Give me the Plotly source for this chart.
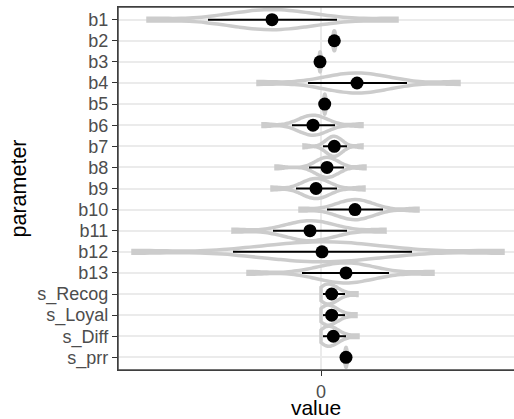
import plotly.graph_objects as go

# ---- data ----
parameters = ["b1", "b2", "b3", "b4", "b5", "b6", "b7", "b8", "b9", "b10",
              "b11", "b12", "b13", "s_Recog", "s_Loyal", "s_Diff", "s_prr"]

point_est = [-0.49, 0.133, -0.01, 0.36, 0.037, -0.08, 0.133, 0.06, -0.05, 0.34,
             -0.11, 0.01, 0.25, 0.107, 0.107, 0.123, 0.25]
interval_lo = [-1.13, 0.12, -0.02, -0.13, 0.025, -0.29, 0.02, -0.12, -0.25, 0.06,
               -0.48, -0.88, -0.19, 0.02, 0.02, 0.02, 0.23]
interval_hi = [0.16, 0.145, 0.00, 0.86, 0.05, 0.14, 0.26, 0.23, 0.16, 0.62,
               0.26, 0.91, 0.68, 0.24, 0.24, 0.25, 0.27]

# posterior draws (summarised) per parameter
draws_b1 = [-1.73, -1.06, -0.87, -0.76, -0.67, -0.60, -0.52, -0.46, -0.39, -0.31, -0.22, -0.11, 0.08, 0.76]
draws_b2 = [0.115, 0.121, 0.124, 0.126, 0.128, 0.130, 0.132, 0.134, 0.136, 0.138, 0.140, 0.142, 0.145, 0.15]
draws_b3 = [-0.025, -0.019, -0.016, -0.014, -0.012, -0.011, -0.010, -0.009, -0.008, -0.006, -0.004, -0.002, 0.001, 0.005]
draws_b4 = [-0.63, -0.08, 0.07, 0.16, 0.22, 0.28, 0.335, 0.385, 0.44, 0.50, 0.565, 0.65, 0.80, 1.38]
draws_b5 = [0.02, 0.027, 0.030, 0.032, 0.034, 0.036, 0.037, 0.038, 0.040, 0.042, 0.044, 0.046, 0.049, 0.055]
draws_b6 = [-0.58, -0.27, -0.21, -0.17, -0.14, -0.115, -0.09, -0.07, -0.045, -0.02, 0.01, 0.05, 0.11, 0.41]
draws_b7 = [-0.17, 0.025, 0.06, 0.08, 0.095, 0.11, 0.125, 0.135, 0.15, 0.165, 0.18, 0.20, 0.235, 0.41]
draws_b8 = [-0.45, -0.09, -0.04, -0.01, 0.01, 0.03, 0.05, 0.07, 0.09, 0.11, 0.13, 0.16, 0.21, 0.44]
draws_b9 = [-0.49, -0.23, -0.17, -0.135, -0.11, -0.085, -0.06, -0.04, -0.015, 0.01, 0.035, 0.07, 0.13, 0.43]
draws_b10 = [-0.21, 0.09, 0.175, 0.225, 0.26, 0.295, 0.325, 0.355, 0.385, 0.42, 0.455, 0.505, 0.59, 0.97]
draws_b11 = [-0.88, -0.44, -0.33, -0.26, -0.21, -0.17, -0.13, -0.09, -0.05, -0.005, 0.045, 0.11, 0.22, 0.64]
draws_b12 = [-1.88, -0.78, -0.52, -0.36, -0.24, -0.14, -0.035, 0.055, 0.155, 0.26, 0.38, 0.535, 0.80, 1.82]
draws_b13 = [-0.73, -0.13, 0.0, 0.07, 0.13, 0.18, 0.23, 0.27, 0.32, 0.37, 0.43, 0.505, 0.635, 1.12]
draws_s_Recog = [0.00, 0.01, 0.025, 0.04, 0.055, 0.07, 0.085, 0.10, 0.115, 0.13, 0.15, 0.18, 0.23, 0.36]
draws_s_Loyal = [0.00, 0.01, 0.025, 0.04, 0.055, 0.07, 0.085, 0.10, 0.115, 0.13, 0.15, 0.18, 0.23, 0.35]
draws_s_Diff = [0.00, 0.012, 0.03, 0.045, 0.06, 0.075, 0.09, 0.105, 0.12, 0.135, 0.155, 0.185, 0.235, 0.37]
draws_s_prr = [0.23, 0.238, 0.241, 0.244, 0.246, 0.248, 0.249, 0.251, 0.252, 0.254, 0.256, 0.258, 0.261, 0.266]

all_draws = [draws_b1, draws_b2, draws_b3, draws_b4, draws_b5, draws_b6, draws_b7,
             draws_b8, draws_b9, draws_b10, draws_b11, draws_b12, draws_b13,
             draws_s_Recog, draws_s_Loyal, draws_s_Diff, draws_s_prr]

FONT = "Liberation Sans, Arial, sans-serif"
fig = go.Figure()

for name, d in zip(parameters, all_draws):
    fig.add_trace(go.Violin(
        x=d, y=[name] * len(d), name=name, orientation="h",
        spanmode="hard", side="both", width=0.95, scalemode="width",
        points=False, line=dict(color="#cccccc", width=3.5),
        fillcolor="rgba(0,0,0,0)", showlegend=False, hoverinfo="skip",
        box=dict(visible=False), meanline=dict(visible=False),
    ))

fig.add_trace(go.Scatter(
    x=point_est, y=parameters, mode="markers",
    marker=dict(color="black", size=13),
    error_x=dict(type="data", symmetric=False,
                 array=[h - p for h, p in zip(interval_hi, point_est)],
                 arrayminus=[p - l for l, p in zip(interval_lo, point_est)],
                 color="black", thickness=2, width=0),
    showlegend=False,
))

# panel border (ggplot theme_bw style)
fig.add_shape(type="rect", xref="paper", yref="paper", x0=0, x1=1.01, y0=0, y1=1,
              line=dict(color="#444444", width=1.5), fillcolor="rgba(0,0,0,0)",
              layer="above")

fig.update_layout(
    width=514, height=419,
    margin=dict(l=118, r=0, t=7, b=49),
    paper_bgcolor="white", plot_bgcolor="white",
    violinmode="overlay",
    font=dict(family=FONT),
)
fig.update_xaxes(
    range=[-2.03, 1.93], tickmode="array", tickvals=[0], ticktext=["0"],
    showgrid=True, gridcolor="#ebebeb", gridwidth=1.5, zeroline=False,
    showline=True, linecolor="#333333", linewidth=1.2, mirror=True,
    ticks="outside", ticklen=5, tickcolor="#333333", tickwidth=1.2,
    tickfont=dict(size=18, color="#4d4d4d", family=FONT),
    title=dict(text="value", font=dict(size=21, color="black", family=FONT), standoff=8),
    automargin=False,
)
fig.update_yaxes(
    categoryorder="array", categoryarray=parameters, range=[16.6, -0.6],
    tickmode="array", tickvals=parameters, ticktext=parameters,
    showgrid=True, gridcolor="#ebebeb", gridwidth=1.5, zeroline=False,
    showline=True, linecolor="#333333", linewidth=1.2, mirror=False,
    ticks="outside", ticklen=5, tickcolor="#333333", tickwidth=1.2,
    tickfont=dict(size=18, color="#4d4d4d", family=FONT),
    title=dict(text="parameter", font=dict(size=21.5, color="black", family=FONT), standoff=4),
    automargin=False,
)

fig.write_html("out.html", config={"displayModeBar": False},
               post_script="document.body.style.margin='0';")
